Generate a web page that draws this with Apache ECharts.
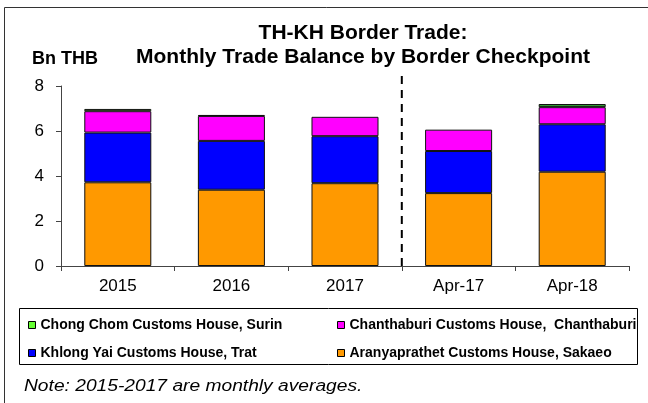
<!DOCTYPE html>
<html>
<head>
<meta charset="utf-8">
<script src="https://cdn.jsdelivr.net/npm/echarts@6/dist/echarts.min.js"></script>
<style>
  html, body { margin: 0; padding: 0; background: #fff; }
  #chart { width: 648px; height: 403px; }
</style>
</head>
<body>
<div id="chart"></div>
<script>
// 카테고리 및 데이터 (Bn THB)
var categories = ['2015', '2016', '2017', 'Apr-17', 'Apr-18'];
var aranyaprathet = [3.72, 3.39, 3.68, 3.24, 4.19];
var khlongYai = [2.21, 2.17, 2.09, 1.87, 2.11];
var chanthaburi = [0.95, 1.11, 0.86, 0.95, 0.76];
var chongChom = [0.10, 0.04, -0.08, -0.08, 0.14];
var yTicks = [0, 2, 4, 6, 8];

// 2017 / Apr-17 사이 구분선 위치
var dividerAt = 3;
var dividerTop = 8.6;

var greenShade = ['#66FF33', '#339933', '#339933', '#66FF33', '#339933'];

var FONT = '"Liberation Sans", Arial, sans-serif';

function barSeries(name, data, color) {
  return {
    name: name,
    type: 'bar',
    stack: 'total',
    barWidth: '59%',
    data: data,
    itemStyle: { color: color, borderColor: '#111', borderWidth: 1 },
    animation: false
  };
}

var chart = echarts.init(document.getElementById('chart'));

var legendText = { fontFamily: FONT, fontSize: 14, fontWeight: 'bold', color: '#000' };

// 음수 막대는 테두리 없이 (얇아서 색이 가려짐)
var chongChomData = chongChom.map(function (v, i) {
  return {
    value: v,
    itemStyle: { color: greenShade[i], borderWidth: v < 0 ? 0 : 1 }
  };
});

var option = {
  backgroundColor: '#fff',
  animation: false,
  title: {
    text: 'TH-KH Border Trade:\nMonthly Trade Balance by Border Checkpoint',
    left: 363,
    top: 21,
    padding: 0,
    textAlign: 'center',
    textStyle: { fontFamily: FONT, fontSize: 21, fontWeight: 'bold', color: '#000', lineHeight: 24 }
  },
  grid: { left: 61, right: 19, top: 86, bottom: 137 },
  legend: [
    {
      orient: 'vertical',
      left: 28,
      top: 318,
      padding: 0,
      itemWidth: 7,
      itemHeight: 7,
      itemGap: 14,
      icon: 'rect',
      data: ['Chong Chom Customs House, Surin', 'Khlong Yai Customs House, Trat'],
      itemStyle: { borderColor: '#000', borderWidth: 1 },
      textStyle: legendText
    },
    {
      orient: 'vertical',
      left: 337,
      top: 318,
      padding: 0,
      itemWidth: 7,
      itemHeight: 7,
      itemGap: 14,
      icon: 'rect',
      data: ['Chanthaburi Customs House,  Chanthaburi', 'Aranyaprathet Customs House, Sakaeo'],
      itemStyle: { borderColor: '#000', borderWidth: 1 },
      textStyle: legendText
    }
  ],
  xAxis: [
    {
      type: 'category',
      data: categories,
      axisLine: { lineStyle: { color: '#444', width: 1 } },
      axisTick: { show: true, length: 5, lineStyle: { color: '#444' } },
      axisLabel: { fontFamily: FONT, fontSize: 17, color: '#000', margin: 12 }
    },
    { type: 'value', min: 0, max: categories.length, show: false }
  ],
  yAxis: {
    type: 'value',
    min: yTicks[0],
    max: yTicks[yTicks.length - 1],
    interval: 2,
    name: 'Bn THB',
    nameLocation: 'end',
    nameGap: 18,
    nameTextStyle: { fontFamily: FONT, fontSize: 18, fontWeight: 'bold', color: '#000', padding: [0, 0, 0, 8] },
    axisLine: { show: true, lineStyle: { color: '#444', width: 1 } },
    axisTick: { show: true, length: 5, lineStyle: { color: '#444' } },
    splitLine: { show: false },
    axisLabel: { fontFamily: FONT, fontSize: 17, color: '#000', margin: 17 }
  },
  series: [
    barSeries('Aranyaprathet Customs House, Sakaeo', aranyaprathet, '#FF9900'),
    barSeries('Khlong Yai Customs House, Trat', khlongYai, '#0000FF'),
    barSeries('Chanthaburi Customs House,  Chanthaburi', chanthaburi, '#FF00FF'),
    barSeries('Chong Chom Customs House, Surin', chongChomData, '#66FF33'),
    {
      name: 'divider',
      type: 'line',
      xAxisIndex: 1,
      yAxisIndex: 0,
      data: [[dividerAt, 0], [dividerAt, dividerTop]],
      symbol: 'none',
      clip: false,
      silent: true,
      z: 5,
      lineStyle: { color: '#000', width: 2, type: [8, 6] }
    }
  ],
  graphic: [
    {
      type: 'rect',
      shape: { x: 4.5, y: 7.5, width: 700, height: 500 },
      style: { fill: null, stroke: '#333', lineWidth: 1 },
      silent: true
    },
    {
      type: 'rect',
      shape: { x: 19.5, y: 308.5, width: 618, height: 56 },
      style: { fill: null, stroke: '#000', lineWidth: 1 },
      silent: true
    },
    {
      type: 'text',
      x: 24,
      y: 387,
      scaleX: 1.2,
      style: {
        text: 'Note: 2015-2017 are monthly averages.',
        font: 'italic 16px ' + FONT,
        fill: '#000',
        verticalAlign: 'middle'
      },
      silent: true
    }
  ]
};

chart.setOption(option);

window.addEventListener('resize', function () {
  chart.resize();
});
</script>
</body>
</html>
